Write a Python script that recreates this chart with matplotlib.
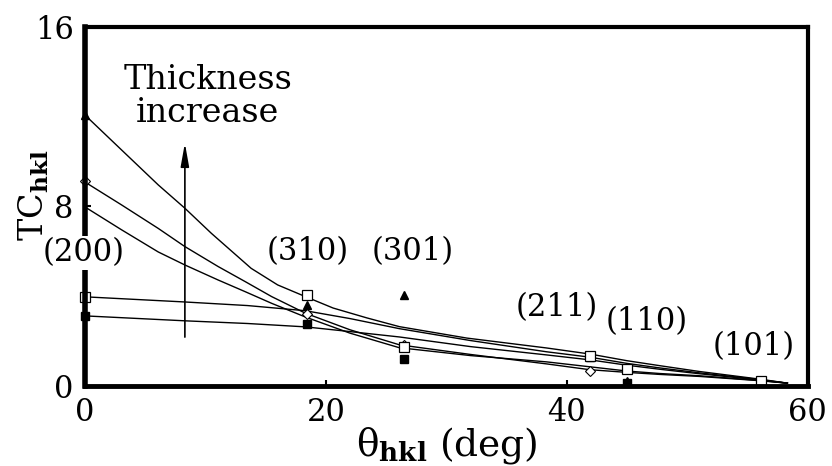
import matplotlib
matplotlib.use("Agg")
import matplotlib.pyplot as plt

plt.rcParams["font.family"] = ["DejaVu Serif"]
plt.rcParams["mathtext.fontset"] = "dejavuserif"

# fitted curves (theta in deg, TC)
CURVE_A_X = [0, 2.77, 6.09, 8.3, 10.5, 13.8, 16.0, 18.3, 20.6, 23.4, 26.1, 31.7, 38.3, 41.9, 45, 47.7, 51, 56, 58.3]
CURVE_A_Y = [12.08, 10.66, 8.96, 7.92, 6.80, 5.24, 4.50, 3.98, 3.47, 3.03, 2.64, 2.13, 1.69, 1.42, 1.12, 0.90, 0.64, 0.30, 0.12]

CURVE_B_X = [0, 3.04, 6.09, 8.3, 11.06, 13.3, 15.5, 18.3, 22, 26.1, 32, 38.3, 41.9, 45, 47.7, 51, 56, 58.3]
CURVE_B_Y = [9.09, 8.07, 7.02, 6.21, 5.32, 4.65, 3.98, 3.24, 2.50, 1.83, 1.40, 0.98, 0.72, 0.60, 0.51, 0.42, 0.23, 0.12]

CURVE_C_X = [0, 3.04, 6.09, 8.3, 11.06, 13.3, 15.5, 18.3, 22, 26.1, 32, 38.3, 41.9, 45, 47.7, 51, 56, 58.3]
CURVE_C_Y = [7.98, 6.96, 5.97, 5.39, 4.72, 4.20, 3.68, 3.07, 2.35, 1.70, 1.35, 1.07, 0.85, 0.66, 0.55, 0.45, 0.24, 0.12]

CURVE_D_X = [0, 8.3, 13.5, 18.3, 22, 26.1, 32, 38.3, 41.9, 45, 47.7, 51, 56, 58.3]
CURVE_D_Y = [3.97, 3.74, 3.58, 3.35, 3.00, 2.55, 2.02, 1.52, 1.28, 1.00, 0.80, 0.58, 0.28, 0.12]

CURVE_E_X = [0, 8.3, 13.5, 18.3, 22, 26.1, 32, 38.3, 41.9, 45, 47.7, 51, 56, 58.3]
CURVE_E_Y = [3.12, 2.90, 2.78, 2.63, 2.42, 2.18, 1.75, 1.38, 1.16, 0.92, 0.74, 0.54, 0.26, 0.12]

# measured points
OPEN_SQ_X = [0, 18.4, 26.5, 41.9, 45.0, 56.1]
OPEN_SQ_Y = [3.97, 4.06, 1.74, 1.34, 0.76, 0.22]
TRI_X = [0, 18.4, 26.5, 41.9, 45.0, 56.1]
TRI_Y = [12.08, 3.6, 4.06, 1.28, 0.22, 0.18]
DIAM_X = [0, 18.4, 26.5, 41.9, 56.1]
DIAM_Y = [9.14, 3.2, 1.83, 0.67, 0.2]
FILL_SQ_X = [0, 18.4, 26.5, 45.0, 56.1]
FILL_SQ_Y = [3.12, 2.76, 1.2, 0.12, 0.15]

PEAK_LABELS = ["(200)", "(310)", "(301)", "(211)", "(110)", "(101)"]
PEAK_LABEL_X = [-0.1, 18.5, 27.2, 39.2, 46.6, 55.5]
PEAK_LABEL_Y = [5.93, 5.97, 5.97, 3.48, 2.85, 1.74]

X_TICKS = [0, 20, 40, 60]
Y_TICKS = [0, 8, 16]

fig = plt.figure(figsize=(8.32, 4.66), dpi=100)
ax = fig.add_axes([0.102, 0.172, 0.869, 0.770])

for cx, cy in [(CURVE_A_X, CURVE_A_Y), (CURVE_B_X, CURVE_B_Y), (CURVE_C_X, CURVE_C_Y),
               (CURVE_D_X, CURVE_D_Y), (CURVE_E_X, CURVE_E_Y)]:
    ax.plot(cx, cy, color="black", lw=1.0, zorder=3, clip_on=False, solid_joinstyle="round")

ax.plot(FILL_SQ_X, FILL_SQ_Y, ls="none", marker="s", ms=6, mfc="black", mec="black", zorder=4, clip_on=False)
ax.plot(TRI_X, TRI_Y, ls="none", marker="^", ms=6, mfc="black", mec="black", zorder=4, clip_on=False)
ax.plot(DIAM_X, DIAM_Y, ls="none", marker="D", ms=5, mfc="white", mec="black", mew=0.8, zorder=5, clip_on=False)
ax.plot(OPEN_SQ_X, OPEN_SQ_Y, ls="none", marker="s", ms=7.5, mfc="white", mec="black", mew=0.9, zorder=5, clip_on=False)

for lab, lx, ly in zip(PEAK_LABELS, PEAK_LABEL_X, PEAK_LABEL_Y):
    bbox = dict(facecolor="white", edgecolor="none", pad=1) if lab == "(200)" else None
    ax.text(lx, ly, lab, fontsize=22, ha="center", va="center", zorder=6, bbox=bbox, clip_on=False)

ax.annotate("", xy=(8.3, 10.95), xytext=(8.3, 2.05),
            arrowprops=dict(arrowstyle="-|>,head_length=1.4,head_width=0.25", color="black", lw=1.2))
ax.text(10.2, 12.9, "Thickness\nincrease", fontsize=24, ha="center", va="center", linespacing=1.05)

ax.set_xlim(0, 60)
ax.set_ylim(0, 16)
ax.set_xticks(X_TICKS)
ax.set_yticks(Y_TICKS)
ax.tick_params(direction="in", length=4, width=1.5, labelsize=22, pad=8)
for side, w in [("left", 4.0), ("bottom", 3.5), ("top", 3.0), ("right", 3.0)]:
    ax.spines[side].set_linewidth(w)
    ax.spines[side].set_zorder(5.5)

ax.set_xlabel(r"θ$_{\mathbf{hkl}}$ (deg)", fontsize=27, va="center")
ax.xaxis.set_label_coords(0.5, -0.165)
ax.set_ylabel(r"TC$_{\mathbf{hkl}}$", fontsize=24, va="center")
ax.yaxis.set_label_coords(-0.07, 0.53)

fig.savefig("out.png", dpi=100)
